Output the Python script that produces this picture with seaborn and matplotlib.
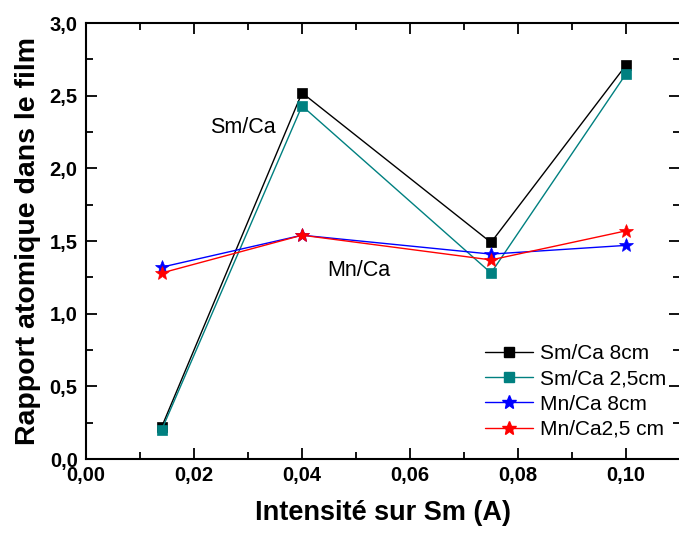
import pandas as pd
import seaborn as sns
import matplotlib.pyplot as plt
from matplotlib.ticker import MultipleLocator, FuncFormatter

intensite = [0.014, 0.04, 0.075, 0.10]
sm_ca_8cm = [0.22, 2.52, 1.49, 2.71]
sm_ca_25cm = [0.20, 2.43, 1.28, 2.65]
mn_ca_8cm = [1.32, 1.54, 1.41, 1.47]
mn_ca_25cm = [1.28, 1.54, 1.37, 1.57]

series = ['Sm/Ca 8cm', 'Sm/Ca 2,5cm', 'Mn/Ca 8cm', 'Mn/Ca2,5 cm']
values = [sm_ca_8cm, sm_ca_25cm, mn_ca_8cm, mn_ca_25cm]
colors = ['black', '#008080', 'blue', 'red']
markers = ['s', 's', '*', '*']
msizes = [7.5, 7.5, 10.5, 10.5]

df = pd.DataFrame({'x': intensite * 4,
                   'y': sum(values, []),
                   'serie': [s for s in series for _ in intensite]})

sns.set_theme(style='ticks', rc={'text.color': 'black', 'axes.labelcolor': 'black',
                                 'xtick.color': 'black', 'ytick.color': 'black', 'axes.edgecolor': 'black'})
plt.rcParams['font.family'] = ['Liberation Sans', 'DejaVu Sans']

fig = plt.figure(figsize=(6.79, 5.33), dpi=100)
ax = fig.add_axes([0.1267, 0.1388, 0.8748, 0.8180])

sns.lineplot(data=df, x='x', y='y', hue='serie', style='serie', hue_order=series, style_order=series,
             palette=dict(zip(series, colors)), markers=dict(zip(series, markers)), dashes=False,
             linewidth=1, markeredgewidth=0.5, ax=ax, legend=False)
for ln, ms in zip(ax.lines, msizes):
    ln.set_markeredgecolor(ln.get_color())
    ln.set_markersize(ms)

handles = [plt.Line2D([], [], color=c, marker=m, lw=1, markersize=ms, markeredgecolor=c)
           for c, m, ms in zip(colors, markers, msizes)]
ax.legend(handles, series, loc='lower right', bbox_to_anchor=(1.0, 0.015), frameon=False, fontsize=15,
          handlelength=2.3, handletextpad=0.35, labelspacing=0.3, borderaxespad=0.25)

ax.text(0.023, 2.28, 'Sm/Ca', fontsize=15.5, va='center')
ax.text(0.0446, 1.30, 'Mn/Ca', fontsize=15.5, va='center')

ax.set_xlim(0, 0.11)
ax.set_ylim(0, 3.0)
ax.xaxis.set_major_locator(MultipleLocator(0.02))
ax.xaxis.set_minor_locator(MultipleLocator(0.01))
ax.yaxis.set_major_locator(MultipleLocator(0.5))
ax.yaxis.set_minor_locator(MultipleLocator(0.25))
ax.xaxis.set_major_formatter(FuncFormatter(lambda v, p: f'{v:.2f}'.replace('.', ',')))
ax.yaxis.set_major_formatter(FuncFormatter(lambda v, p: f'{v:.1f}'.replace('.', ',')))
ax.tick_params(which='both', direction='in', top=True, right=True, width=1.3, labelsize=14.5)
ax.tick_params(axis='x', pad=5)
ax.tick_params(axis='y', pad=6)
ax.tick_params(which='major', length=8)
ax.tick_params(which='minor', length=5)
for lbl in ax.get_xticklabels() + ax.get_yticklabels():
    lbl.set_fontweight('bold')
for sp in ax.spines.values():
    sp.set_linewidth(1.5)

ax.set_xlabel('Intensité sur Sm (A)', fontsize=19.5, fontweight='bold', labelpad=11)
ax.set_ylabel('Rapport atomique dans le film', fontsize=20.5, fontweight='bold', labelpad=6)

fig.savefig('out.png', dpi=100)
